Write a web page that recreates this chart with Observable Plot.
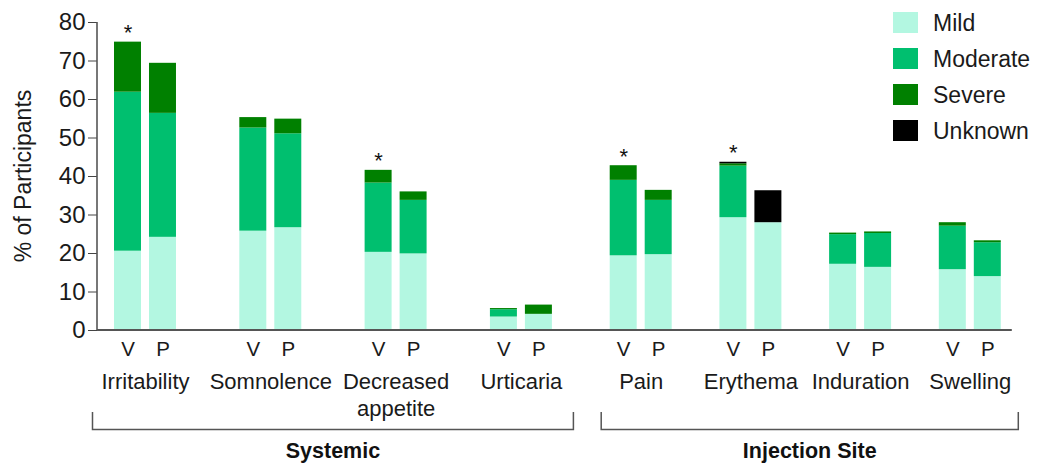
<!DOCTYPE html>
<html>
<head>
<meta charset="utf-8">
<script src="https://cdn.jsdelivr.net/npm/d3@7"></script>
<script src="https://cdn.jsdelivr.net/npm/@observablehq/plot@0.6"></script>
<style>
  body { margin: 0; background: #fff; font-family: "Liberation Sans", Arial, sans-serif; }
  #chart { display: flex; width: 1040px; height: 466px; }
  #chart svg { display: block; overflow: visible; }
</style>
</head>
<body>
<div id="chart"></div>
<script>
// ---------- data ----------
const categories = ["Irritability", "Somnolence", "Decreased\nappetite", "Urticaria", "Pain", "Erythema", "Induration", "Swelling"];
const categorySection = ["Systemic", "Systemic", "Systemic", "Systemic", "Injection Site", "Injection Site", "Injection Site", "Injection Site"];
const sections = ["Systemic", "Injection Site"];
const arms = ["V", "P"];
const severities = ["Mild", "Moderate", "Severe", "Unknown"];
const severityColors = ["#b3f7e1", "#00bf6f", "#008000", "#000000"];

// % of participants, one value per category (order of `categories`)
const mildV     = [20.6, 25.8, 20.3, 3.5, 19.4, 29.3, 17.2, 15.8];
const mildP     = [24.2, 26.7, 19.9, 4.2, 19.7, 28.0, 16.4, 14.0];
const moderateV = [41.3, 26.8, 18.0, 1.9, 19.6, 13.4, 7.7, 11.3];
const moderateP = [32.2, 24.4, 13.9, 0.0, 14.1, 0.0, 8.8, 8.8];
const severeV   = [13.0, 2.7, 3.3, 0.3, 3.8, 0.6, 0.4, 0.9];
const severeP   = [13.0, 3.8, 2.2, 2.4, 2.6, 0.0, 0.4, 0.5];
const unknownV  = [0, 0, 0, 0, 0, 0.4, 0, 0];
const unknownP  = [0, 0, 0, 0, 0, 8.3, 0, 0];

const starred = ["Irritability", "Decreased\nappetite", "Pain", "Erythema"]; // marked * on the V bar
const yTicks = [0, 10, 20, 30, 40, 50, 60, 70, 80];

// ---------- tables ----------
const series = {
  Mild: [mildV, mildP],
  Moderate: [moderateV, moderateP],
  Severe: [severeV, severeP],
  Unknown: [unknownV, unknownP]
};
const rows = [];
categories.forEach((c, i) => arms.forEach((a, j) => severities.forEach(s => {
  rows.push({category: c, section: categorySection[i], arm: a, severity: s, value: series[s][j][i]});
})));
const stars = starred.map(c => ({
  category: c, arm: "V",
  total: d3.sum(rows.filter(r => r.category === c && r.arm === "V"), r => r.value)
}));

const FONT = "Liberation Sans, Arial, sans-serif";

function makeChart(section, o) {
  const cats = categories.filter((c, i) => categorySection[i] === section);
  const data = rows.filter(r => r.section === section);
  const plot = Plot.plot({
    width: o.width,
    height: 466,
    marginLeft: o.marginLeft,
    marginRight: o.marginRight,
    marginTop: 22,
    marginBottom: 136,
    style: {fontFamily: FONT, color: "#1a1a1a", background: "transparent", overflow: "visible"},
    fx: {domain: cats, paddingInner: o.fxPad, paddingOuter: 0, round: false, label: null},
    x: {domain: arms, paddingInner: 8 / 35, paddingOuter: 0.486, round: false, label: null},
    y: {domain: [0, 80], label: null, axis: o.yAxis ? undefined : null},
    color: {domain: severities, range: severityColors},
    marks: [
      o.yAxis ? Plot.axisY({ticks: yTicks, tickSize: 9, tickPadding: 3, fontSize: 24, label: null, stroke: "#444"}) : null,
      Plot.barY(data, Plot.stackY({fx: "category", x: "arm", y: "value", fill: "severity"})),
      Plot.text(stars.filter(s => cats.includes(s.category)), {
        fx: "category", x: "arm", y: "total", text: () => "*", fontSize: 22, dy: -9, fill: "#111"
      }),
      Plot.axisX({anchor: "bottom", tickSize: 0, tickPadding: 11, fontSize: 20.5, label: null}),
      Plot.axisFx({anchor: "bottom", tickSize: 0, tickPadding: 40, fontSize: 22, label: null, lineHeight: 1.2})
    ]
  });

  const svg = d3.select(plot);
  const fx = plot.scale("fx");
  const y = plot.scale("y");
  const xs = plot.scale("x");
  const bw = fx.bandwidth;
  const first = fx.apply(cats[0]);
  const last = fx.apply(cats[cats.length - 1]) + bw;
  const y0 = y.apply(0);

  // axis lines
  if (o.yAxis) {
    svg.append("line").attr("x1", first).attr("x2", first)
      .attr("y1", y.apply(80)).attr("y2", y0)
      .attr("stroke", "#555").attr("stroke-width", 1.6);
    svg.append("text")
      .attr("transform", `translate(23,${(y.apply(80) + y0) / 2}) rotate(-90)`)
      .attr("text-anchor", "middle").attr("dominant-baseline", "central")
      .attr("font-family", FONT).attr("font-size", 23).attr("fill", "#1a1a1a")
      .text("% of Participants");
  }
  svg.append("line")
    .attr("x1", o.yAxis ? first : 0).attr("x2", o.yAxis ? o.width : last - 6)
    .attr("y1", y0).attr("y2", y0)
    .attr("stroke", "#555").attr("stroke-width", 2);

  // bracket + section label
  const vCenter = fx.apply(cats[0]) + xs.apply("V") - o.marginLeft + xs.bandwidth / 2;
  const pCenter = fx.apply(cats[cats.length - 1]) + xs.apply("P") - o.marginLeft + xs.bandwidth / 2;
  const bx0 = vCenter + o.bracketPad[0];
  const bx1 = pCenter + o.bracketPad[1];
  const by0 = y0 + 82, by1 = y0 + 99.5;
  svg.append("path")
    .attr("d", `M${bx0},${by0}V${by1}H${bx1}V${by0}`)
    .attr("fill", "none").attr("stroke", "#555").attr("stroke-width", 1.5);
  svg.append("text")
    .attr("x", (bx0 + bx1) / 2).attr("y", y0 + 128)
    .attr("text-anchor", "middle").attr("font-family", FONT)
    .attr("font-size", 21.5).attr("font-weight", "bold").attr("fill", "#111")
    .text(section);

  // legend
  if (o.legend) {
    const g = svg.append("g").attr("transform", `translate(${o.legend[0]},${o.legend[1]})`);
    severities.forEach((s, i) => {
      g.append("rect").attr("x", 0).attr("y", i * 36).attr("width", 25).attr("height", 21)
        .attr("fill", severityColors[i]);
      g.append("text").attr("x", 40).attr("y", i * 36 + 10.5)
        .attr("text-anchor", "start")
        .attr("dominant-baseline", "central").attr("font-family", FONT)
        .attr("font-size", 23).attr("fill", "#1a1a1a").text(s);
    });
  }
  return plot;
}

const chart = document.getElementById("chart");
chart.append(makeChart("Systemic", {
  width: 586, marginLeft: 97, marginRight: 17.1, fxPad: 0.234, yAxis: true, bracketPad: [-35, 35]
}));
chart.append(makeChart("Injection Site", {
  width: 454, marginLeft: 6.7, marginRight: 22.2, fxPad: 0.125, yAxis: false, bracketPad: [-22, 31],
  legend: [307, 12]
}));
</script>
</body>
</html>
